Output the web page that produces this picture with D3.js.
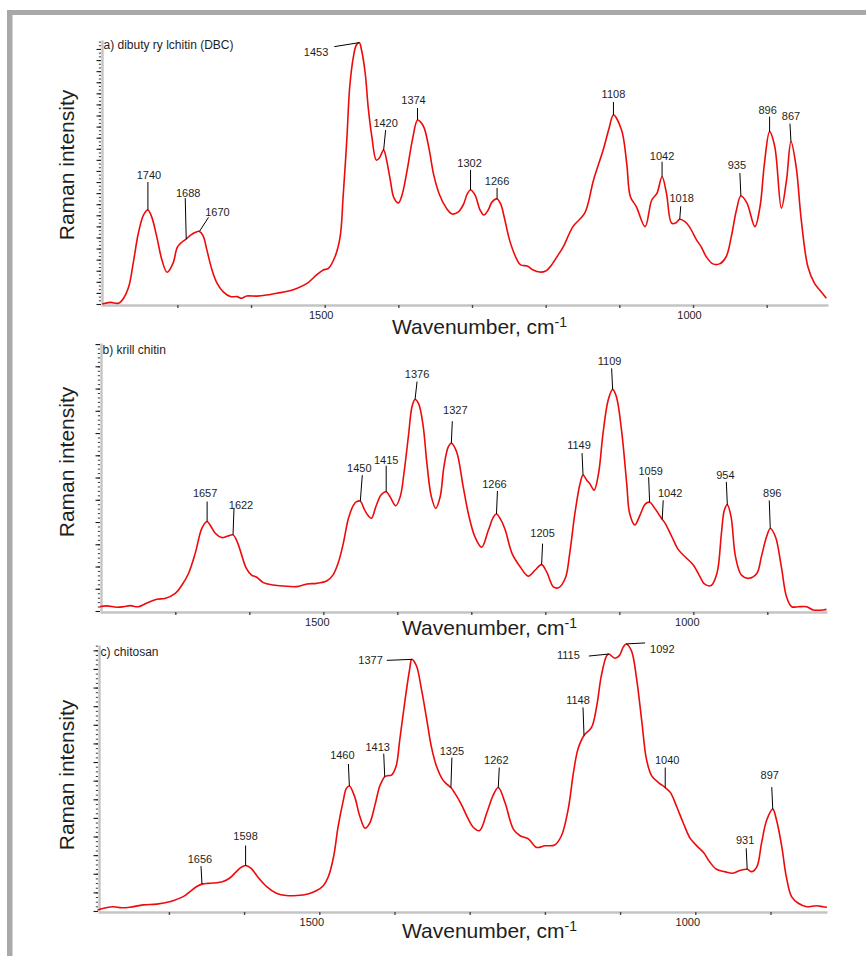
<!DOCTYPE html>
<html>
<head>
<meta charset="utf-8">
<script src="https://cdn.jsdelivr.net/npm/d3@7"></script>
<style>
  html, body { margin: 0; padding: 0; background: #fff; }
  svg { display: block; font-family: "Liberation Sans", Arial, sans-serif; }
</style>
</head>
<body>
<svg id="chart" width="866" height="956"></svg>
<script>
// ---- Spectra: [wavenumber (cm-1), relative Raman intensity] ----
const dbcSpectrum = [[1802,0],[1791,0.6],[1780,0.3],[1773,2.2],[1766,6.6],[1760,15.4],[1753,26.8],[1746,33.7],[1740,35.6],[1735,33.1],[1728,25.5],[1721,16.7],[1714,12.0],[1706,15.4],[1700,21.5],[1694,23.4],[1688,24.6],[1682,26.1],[1676,27.1],[1670,27.5],[1665,25.8],[1660,20.5],[1653,12.9],[1646,7.8],[1638,4.7],[1628,2.8],[1619,2.8],[1613,2.2],[1606,3.0],[1592,3.0],[1579,3.4],[1565,4.1],[1552,4.7],[1538,5.9],[1524,7.8],[1511,11.0],[1502,12.9],[1495,13.5],[1486,17.9],[1479,25.5],[1475,40.6],[1470,62.1],[1466,82.3],[1461,93.7],[1457,98.1],[1453,99.0],[1450,96.2],[1445,87.4],[1441,74.7],[1436,63.4],[1430,54.5],[1426,55.2],[1420,58.3],[1416,54.5],[1411,47.0],[1406,40.2],[1400,38.3],[1395,41.3],[1388,50.8],[1381,62.1],[1374,69.7],[1370,69.0],[1365,66.7],[1358,58.3],[1352,48.9],[1344,41.3],[1335,36.4],[1327,34.1],[1319,34.8],[1312,37.5],[1306,42.0],[1302,43.2],[1296,41.3],[1289,35.6],[1284,33.7],[1278,35.6],[1273,38.6],[1266,39.8],[1261,37.8],[1256,32.6],[1249,24.2],[1240,17.4],[1234,14.8],[1225,14.4],[1217,12.9],[1208,12.1],[1200,12.5],[1192,14.8],[1183,18.6],[1176,21.7],[1163,29.3],[1147,34.4],[1135,47.0],[1122,58.3],[1114,66.5],[1108,71.6],[1097,65.9],[1090,53.3],[1085,40.6],[1077,36.9],[1065,29.3],[1056,39.4],[1049,41.9],[1042,48.2],[1036,41.9],[1029,30.6],[1023,30.8],[1018,32.1],[1011,31.2],[1005,29.3],[995,24.2],[989,21.7],[982,17.9],[973,15.2],[964,15.2],[955,17.9],[948,25.5],[941,35.6],[935,40.9],[927,38.4],[916,29.3],[909,36.9],[903,53.3],[896,65.3],[889,59.6],[880,36.3],[873,47.0],[867,61.5],[860,52.0],[853,31.8],[844,14.1],[835,7.8],[828,5.3],[819,2.2]];

const krillSpectrum = [[1802,1.6],[1793,1.9],[1779,1.4],[1770,1.6],[1761,2.0],[1750,1.6],[1739,2.9],[1725,4.4],[1714,4.7],[1700,6.6],[1691,9.7],[1682,14.1],[1673,21.6],[1664,30.9],[1657,33.4],[1653,32.1],[1646,29.0],[1637,27.4],[1629,28.0],[1622,28.4],[1616,25.6],[1611,21.5],[1604,15.9],[1597,13.4],[1590,12.6],[1581,10.6],[1568,9.7],[1554,9.3],[1536,9.1],[1522,10.1],[1509,10.3],[1495,11.3],[1487,13.4],[1480,17.8],[1473,25.2],[1466,34.6],[1459,39.6],[1455,40.8],[1450,41.0],[1445,38.2],[1440,35.8],[1435,34.6],[1429,38.9],[1422,43.3],[1415,44.5],[1410,42.7],[1402,39.3],[1396,42.7],[1391,51.4],[1385,65.2],[1380,76.4],[1376,78.9],[1371,77.2],[1365,68.9],[1360,55.1],[1354,42.7],[1348,38.3],[1342,42.7],[1337,53.9],[1331,61.3],[1327,62.6],[1320,59.5],[1311,46.4],[1304,36.4],[1295,27.6],[1286,23.8],[1277,30.1],[1270,35.1],[1266,36.2],[1260,34.0],[1254,30.1],[1245,21.5],[1234,16.5],[1223,13.0],[1214,15.2],[1205,17.3],[1198,14.5],[1189,9.0],[1182,8.7],[1173,12.2],[1167,21.5],[1160,36.4],[1153,47.6],[1149,50.7],[1144,48.8],[1140,47.6],[1134,45.1],[1128,51.4],[1122,66.3],[1115,78.7],[1109,82.7],[1104,80.0],[1097,67.5],[1090,47.6],[1086,36.4],[1079,32.1],[1072,35.8],[1065,39.9],[1059,40.6],[1052,38.3],[1046,35.8],[1042,34.2],[1038,32.7],[1029,27.7],[1020,22.8],[1009,19.7],[1000,17.2],[991,12.8],[985,10.1],[976,9.5],[968,14.1],[962,29.0],[958,37.7],[954,39.6],[949,35.2],[943,20.3],[935,13.4],[925,12.2],[914,14.1],[908,20.3],[901,27.7],[896,30.8],[889,27.7],[881,16.5],[874,5.3],[867,1.6],[858,1.6],[847,1.6],[838,0.4],[824,0.4],[820,0.6]];

const chitosanSpectrum = [[1795,0.4],[1787,1.0],[1774,1.6],[1763,1.2],[1752,1.4],[1734,2.3],[1716,2.6],[1699,3.5],[1681,5.4],[1672,7.3],[1663,9.2],[1656,10.1],[1648,10.4],[1641,10.5],[1628,11.1],[1619,12.4],[1610,14.9],[1604,16.4],[1598,17.1],[1591,16.1],[1582,12.9],[1570,9.2],[1557,6.7],[1544,5.8],[1530,5.8],[1515,6.4],[1504,7.6],[1495,9.4],[1488,12.9],[1481,20.4],[1475,31.7],[1468,41.7],[1464,46.1],[1460,47.0],[1453,43.0],[1446,35.5],[1439,31.1],[1433,33.0],[1426,39.8],[1420,46.7],[1417,48.6],[1413,50.5],[1408,50.9],[1404,51.1],[1398,54.3],[1393,64.3],[1386,79.3],[1380,90.6],[1377,94.6],[1371,92.3],[1364,83.1],[1357,71.8],[1351,61.8],[1344,54.3],[1336,49.4],[1330,47.6],[1325,46.4],[1320,44.4],[1311,40.0],[1304,35.8],[1295,31.4],[1287,30.2],[1277,37.1],[1269,43.4],[1262,46.4],[1253,40.7],[1242,30.8],[1233,28.3],[1222,27.1],[1211,23.9],[1200,24.5],[1187,24.8],[1178,28.3],[1169,38.3],[1162,52.1],[1156,60.9],[1148,66.0],[1138,69.0],[1131,77.2],[1125,88.4],[1118,95.9],[1115,96.6],[1107,95.0],[1101,96.0],[1096,99.1],[1092,100.4],[1085,97.9],[1078,87.2],[1071,70.9],[1065,57.1],[1058,50.8],[1049,48.3],[1040,46.4],[1033,44.5],[1025,39.4],[1016,33.1],[1007,27.4],[998,24.5],[989,22.0],[981,18.5],[972,15.7],[961,14.8],[950,14.2],[941,15.2],[931,15.7],[925,14.8],[918,16.7],[912,25.4],[905,34.2],[897,38.3],[892,34.2],[885,24.2],[879,12.9],[872,5.4],[863,2.9],[852,1.6],[839,2.0],[830,1.6],[825,1.4]];

// ---- Labelled band positions (cm-1) ----
const dbcPeaks = [1740, 1688, 1670, 1453, 1420, 1374, 1302, 1266, 1108, 1042, 1018, 935, 896, 867];
const krillPeaks = [1657, 1622, 1450, 1415, 1376, 1327, 1266, 1205, 1149, 1109, 1059, 1042, 954, 896];
const chitosanPeaks = [1656, 1598, 1460, 1413, 1377, 1325, 1262, 1148, 1115, 1092, 1040, 931, 897];

// ---- Text ----
const panelTitles = ["a) dibuty ry lchitin (DBC)", "b) krill chitin", "c) chitosan"];
const xTickValues = [1700, 1600, 1500, 1400, 1300, 1200, 1100, 1000, 900];
const xTickLabels = [1500, 1000];
const yAxisTitle = "Raman intensity";
const xAxisTitle = "Wavenumber, cm";
const xAxisTitleSup = "-1";

// ---- Panel geometry ----
const layout = [
  { left: 101, right: 828, top: 40,  bottom: 304, x1500: 324.7, x1000: 693.0,
    yTitleY: 165, xTitleX: 392, xTitleY: 334, tickDx: -4,   majorStep: 4.2, minorPer: 3 },
  { left: 100, right: 827, top: 343, bottom: 611, x1500: 323.3, x1000: 693.3,
    yTitleY: 462, xTitleX: 402, xTitleY: 635, tickDx: -6.5, majorStep: 8.3, minorPer: 5 },
  { left: 98,  right: 827, top: 645, bottom: 911, x1500: 319.3, x1000: 695.3,
    yTitleY: 775, xTitleX: 402, xTitleY: 938, tickDx: -8,   majorStep: 7.0, minorPer: 4 }
];

// Leader placement per label: [leader dx, leader dy, text dx, text dy, anchor]
const labelPlacement = [
  { 1740: [0,-28, 1,-3,"middle"], 1688: [-1,-41, 3,-1,"middle"], 1670: [9,-14, 9,-1,"middle"],
    1453: [-25,4, -6,9,"end"], 1420: [2,-20, 0,-3,"middle"], 1374: [0,-12, -4,-4,"middle"],
    1302: [0,-20, -1,-3,"middle"], 1266: [0,-11, 0,-3,"middle"], 1108: [0,-13, 0,-4,"middle"],
    1042: [0,-15, 0,-2,"middle"], 1018: [1,-13, 1,-4,"middle"], 935: [-1,-23, -3,-4,"middle"],
    896: [0,-15, -2,-3,"middle"], 867: [-1,-18, 1,-4,"middle"] },
  { 1657: [0,-20, -2,-4,"middle"], 1622: [1,-27, 7,1,"middle"], 1450: [2,-26, -3,-3,"middle"],
    1415: [0,-26, 0,-2,"middle"], 1376: [2,-18, 0,-4,"middle"], 1327: [1,-22, 3,-7,"middle"],
    1266: [1,-23, -3,-3,"middle"], 1205: [1,-21, 0,-7,"middle"], 1149: [-1,-22, -3,-4,"middle"],
    1109: [-1,-21, -2,-3,"middle"], 1059: [-1,-25, 2,-2,"middle"], 1042: [1,-19, 7,-3,"middle"],
    954: [-1,-23, -1,-3,"middle"], 896: [-1,-28, 3,-3,"middle"] },
  { 1656: [-1,-18, -1,-3,"middle"], 1598: [0,-20, 0,-6,"middle"], 1460: [-1,-22, -6,-5,"middle"],
    1413: [-1,-23, -6,-3,"middle"], 1377: [-25,1, -4,4,"end"], 1325: [1,-30, 0,-3,"middle"],
    1262: [1,-20, -3,-4,"middle"], 1148: [-1,-28, -5,-3,"middle"], 1115: [-20,2, -9,3,"end"],
    1092: [19,-1, 5,10,"start"], 1040: [0,-20, 2,-4,"middle"], 931: [-1,-21, -1,-4,"middle"],
    897: [-1,-22, -2,-8,"middle"] }
];

const panels = [
  { spectrum: dbcSpectrum, peaks: dbcPeaks, title: panelTitles[0] },
  { spectrum: krillSpectrum, peaks: krillPeaks, title: panelTitles[1] },
  { spectrum: chitosanSpectrum, peaks: chitosanPeaks, title: panelTitles[2] }
];

const svg = d3.select("#chart");
const FRAME = "#a9a9ab";
const TEXT = "#1e1e1e";

// page frame (top and left bands)
svg.append("rect").attr("x", 7).attr("y", 10).attr("width", 859).attr("height", 5).attr("fill", FRAME);
svg.append("rect").attr("x", 7).attr("y", 10).attr("width", 5.5).attr("height", 946).attr("fill", FRAME);

// intensity at a wavenumber by linear interpolation along the spectrum
function intensityAt(spectrum, wn) {
  for (let k = 0; k < spectrum.length - 1; k++) {
    const [w0, i0] = spectrum[k], [w1, i1] = spectrum[k + 1];
    if (wn <= w0 && wn >= w1) {
      const t = w0 === w1 ? 0 : (w0 - wn) / (w0 - w1);
      return i0 + t * (i1 - i0);
    }
  }
  return 0;
}

panels.forEach((p, i) => {
  const L = layout[i];
  const cal = d3.scaleLinear().domain([1500, 1000]).range([L.x1500, L.x1000]);
  const x = d3.scaleLinear().domain([cal.invert(L.left), cal.invert(L.right)]).range([L.left, L.right]);
  const y = d3.scaleLinear().domain([0, 100]).range([L.bottom, L.top]);
  const g = svg.append("g");

  // y axis: minor dotted ticks, then major ticks with the grey spine
  const majors = d3.range(0, 100.01, L.majorStep);
  const minors = d3.range(0, 100.01, L.majorStep / L.minorPer);
  g.append("g")
    .attr("transform", `translate(${L.left},0)`)
    .call(d3.axisLeft(y).tickValues(minors).tickSize(2.2).tickSizeOuter(0).tickFormat(""))
    .call(s => { s.select(".domain").remove(); s.selectAll(".tick line").attr("stroke", "#3a3a3a").attr("stroke-width", 1); });
  g.append("g")
    .attr("transform", `translate(${L.left},0)`)
    .call(d3.axisLeft(y).tickValues(majors).tickSize(4.5).tickSizeOuter(0).tickFormat(""))
    .call(s => {
      s.select(".domain").attr("stroke", "#c4c4c4").attr("stroke-width", 2.4).attr("transform", "translate(1,0)");
      s.selectAll(".tick line").attr("stroke", "#1a1a1a").attr("stroke-width", 1.1);
    });

  // x axis (reversed wavenumber)
  g.append("g")
    .attr("transform", `translate(0,${L.bottom + 1})`)
    .call(d3.axisBottom(x).tickValues(xTickValues).tickSize(3).tickSizeOuter(0)
      .tickFormat(d => xTickLabels.includes(d) ? String(d) : ""))
    .call(s => {
      s.select(".domain").attr("stroke", "#c4c4c4").attr("stroke-width", 2.4);
      s.selectAll(".tick line").attr("stroke", "#4a4a4a").attr("stroke-width", 1.4);
      s.selectAll(".tick text").attr("fill", TEXT).attr("font-size", 11)
        .attr("font-family", "'Liberation Sans', Arial, sans-serif").attr("dx", L.tickDx);
    });

  // axis titles
  g.append("text")
    .attr("transform", `translate(74,${L.yTitleY}) rotate(-90)`)
    .attr("text-anchor", "middle").attr("font-size", 21).attr("fill", TEXT)
    .text(yAxisTitle);
  const xt = g.append("text")
    .attr("x", L.xTitleX).attr("y", L.xTitleY)
    .attr("font-size", 21).attr("fill", TEXT)
    .text(xAxisTitle);
  xt.append("tspan").attr("font-size", 14).attr("dy", -7).text(xAxisTitleSup);

  // panel title
  g.append("text")
    .attr("x", L.left + 2.5).attr("y", L.top + (i === 0 ? 9 : 11))
    .attr("font-size", 12).attr("fill", TEXT)
    .text(p.title);

  // spectrum
  const line = d3.line()
    .x(d => x(d[0])).y(d => y(d[1]))
    .curve(d3.curveCatmullRom.alpha(0.5));
  g.append("path")
    .datum(p.spectrum)
    .attr("d", line)
    .attr("fill", "none").attr("stroke", "#ee0a0a").attr("stroke-width", 1.6)
    .attr("stroke-linejoin", "round");

  // peak labels with leader lines
  const place = labelPlacement[i];
  p.peaks.forEach(wn => {
    const [dx, dy, tx, ty, anchor] = place[wn];
    const px = x(wn), py = y(intensityAt(p.spectrum, wn));
    g.append("line")
      .attr("x1", px).attr("y1", py)
      .attr("x2", px + dx).attr("y2", py + dy)
      .attr("stroke", "#000").attr("stroke-width", 1);
    g.append("text")
      .attr("x", px + dx + tx).attr("y", py + dy + ty)
      .attr("text-anchor", anchor)
      .attr("font-size", 11).attr("fill", TEXT)
      .text(wn);
  });
});
</script>
</body>
</html>
